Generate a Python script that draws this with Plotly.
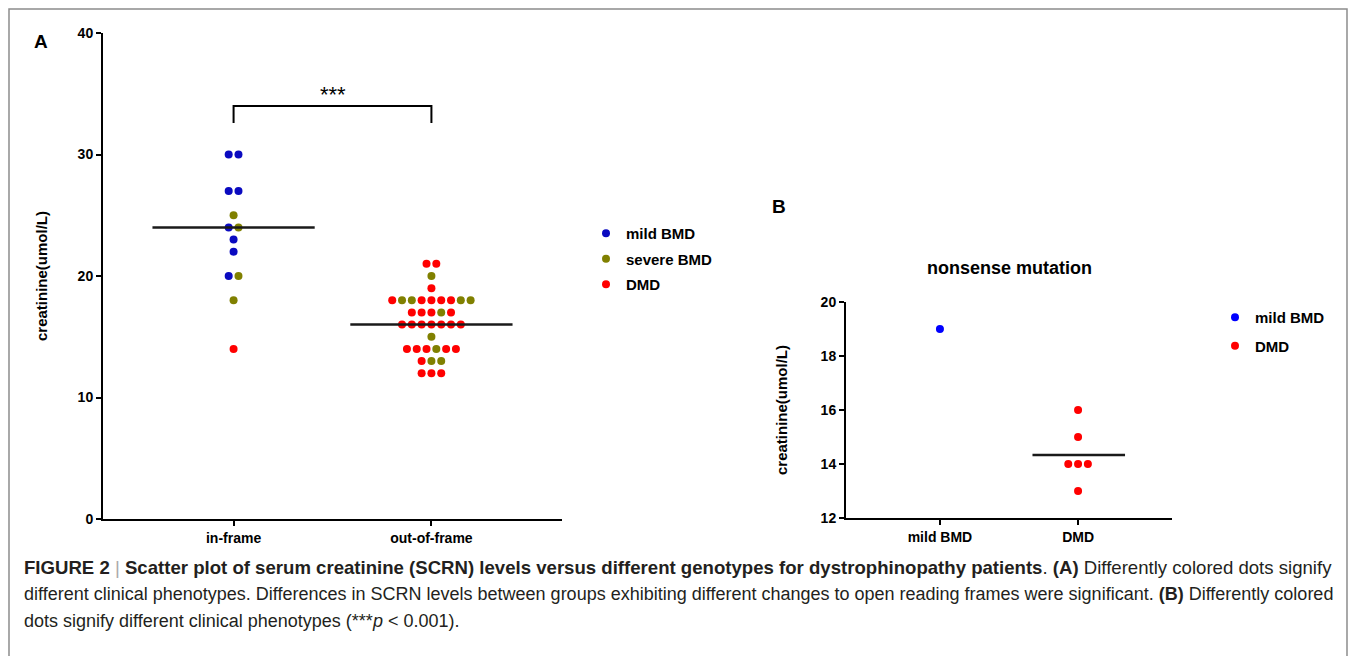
import plotly.graph_objects as go

# ---------------- data ----------------
A_CATEGORIES = ["in-frame", "out-of-frame"]
A_PHENOTYPES = ["mild BMD", "severe BMD", "DMD"]
# each row: (value, [phenotypes of the dots in this row, left to right])
A_INFRAME_ROWS = [
    (30, ["mild BMD", "mild BMD"]),
    (27, ["mild BMD", "mild BMD"]),
    (25, ["severe BMD"]),
    (24, ["mild BMD", "severe BMD"]),
    (23, ["mild BMD"]),
    (22, ["mild BMD"]),
    (20, ["mild BMD", "severe BMD"]),
    (18, ["severe BMD"]),
    (14, ["DMD"]),
]
A_OUTFRAME_ROWS = [
    (21, ["DMD", "DMD"]),
    (20, ["severe BMD"]),
    (19, ["DMD"]),
    (18, ["DMD", "severe BMD", "severe BMD", "DMD", "DMD", "DMD", "DMD", "severe BMD", "severe BMD"]),
    (17, ["DMD", "DMD", "DMD", "severe BMD", "DMD"]),
    (16, ["DMD"] * 7),
    (15, ["severe BMD"]),
    (14, ["DMD", "DMD", "DMD", "severe BMD", "DMD", "DMD"]),
    (13, ["DMD", "severe BMD", "severe BMD"]),
    (12, ["DMD", "DMD", "DMD"]),
]
A_LINE_VALUES = [24, 16]
A_YTICKS = [0, 10, 20, 30, 40]
A_SIG_TEXT = "***"

B_CATEGORIES = ["mild BMD", "DMD"]
B_PHENOTYPES = ["mild BMD", "DMD"]
B_MILD_ROWS = [(19, ["mild BMD"])]
B_DMD_ROWS = [
    (16, ["DMD"]),
    (15, ["DMD"]),
    (14, ["DMD", "DMD", "DMD"]),
    (13, ["DMD"]),
]
B_LINE_VALUE = 14.33
B_YTICKS = [12, 14, 16, 18, 20]
B_TITLE = "nonsense mutation"

COLORS_A = {"mild BMD": "#0A0AC0", "severe BMD": "#808000", "DMD": "#FF0000"}
COLORS_B = {"mild BMD": "#0000FF", "DMD": "#FF0000"}

# ---------------- layout constants ----------------
OFF = 8                      # page body margin
W, H = 1357 - OFF, 664 - 2 * OFF
FONT = "Arial, Liberation Sans, sans-serif"
CAP_FONT = "Liberation Sans, Arial, sans-serif"

def px_x(p):
    return (p - OFF) / W

def px_y(p):
    return 1 - (p - OFF) / H

A_XRANGE = [-0.66, 1.66]
A_XDOM = [px_x(103), px_x(562)]
A_YDOM = [px_y(519), px_y(33)]
B_XRANGE = [-0.68, 1.68]
B_XDOM = [px_x(846), px_x(1172)]
B_YDOM = [px_y(518), px_y(302)]
DOT_PX = 9.8


def swarm(rows, center, xrange_, xdom):
    unit_per_px = (xrange_[1] - xrange_[0]) / ((xdom[1] - xdom[0]) * W)
    step = DOT_PX * unit_per_px
    out = {}
    for val, phen in rows:
        n = len(phen)
        for i, p in enumerate(phen):
            xs, ys = out.setdefault(p, ([], []))
            xs.append(center + (i - (n - 1) / 2) * step)
            ys.append(val)
    return out


fig = go.Figure()

# Panel A dots
a_pts = {p: ([], []) for p in A_PHENOTYPES}
for ci, rows in enumerate([A_INFRAME_ROWS, A_OUTFRAME_ROWS]):
    for p, (xs, ys) in swarm(rows, ci, A_XRANGE, A_XDOM).items():
        a_pts[p][0].extend(xs)
        a_pts[p][1].extend(ys)
for i, p in enumerate(A_PHENOTYPES):
    fig.add_trace(go.Scatter(
        x=a_pts[p][0], y=a_pts[p][1], mode="markers", name=p,
        marker=dict(color=COLORS_A[p], size=8),
        xaxis="x", yaxis="y", legend="legend", legendgroup="a%d" % i))

# Panel A center lines
for ci, v in enumerate(A_LINE_VALUES):
    fig.add_trace(go.Scatter(
        x=[ci - 0.41, ci + 0.41], y=[v, v], mode="lines",
        line=dict(color="#1a1a1a", width=2.5), showlegend=False,
        xaxis="x", yaxis="y", hoverinfo="skip"))

# Panel B dots
b_pts = {p: ([], []) for p in B_PHENOTYPES}
for ci, rows in enumerate([B_MILD_ROWS, B_DMD_ROWS]):
    for p, (xs, ys) in swarm(rows, ci, B_XRANGE, B_XDOM).items():
        b_pts[p][0].extend(xs)
        b_pts[p][1].extend(ys)
for i, p in enumerate(B_PHENOTYPES):
    fig.add_trace(go.Scatter(
        x=b_pts[p][0], y=b_pts[p][1], mode="markers", name=p,
        marker=dict(color=COLORS_B[p], size=8),
        xaxis="x2", yaxis="y2", legend="legend2", legendgroup="b%d" % i))

fig.add_trace(go.Scatter(
    x=[1 - 0.33, 1 + 0.34], y=[B_LINE_VALUE, B_LINE_VALUE], mode="lines",
    line=dict(color="#1a1a1a", width=2.5), showlegend=False,
    xaxis="x2", yaxis="y2", hoverinfo="skip"))

axis_common = dict(
    showline=True, linecolor="black", linewidth=2, ticks="outside",
    ticklen=5, tickwidth=2, tickcolor="black", showgrid=False, zeroline=False,
    automargin=False,
    tickfont=dict(family=FONT, size=14, color="black", weight="bold"),
)

fig.update_layout(
    template="none",
    width=W, height=H, margin=dict(l=0, r=0, t=0, b=0, pad=0),
    paper_bgcolor="white", plot_bgcolor="white",
    font=dict(family=FONT, color="black"),
    xaxis=dict(domain=A_XDOM, range=A_XRANGE, tickvals=[0, 1], ticktext=A_CATEGORIES,
               anchor="y", **axis_common),
    yaxis=dict(domain=A_YDOM, range=[0, 40], tickvals=A_YTICKS, anchor="x",
               title=dict(text="creatinine(umol/L)", standoff=26,
                          font=dict(family=FONT, size=15, color="black", weight="bold")),
               **axis_common),
    xaxis2=dict(domain=B_XDOM, range=B_XRANGE, tickvals=[0, 1], ticktext=B_CATEGORIES,
                anchor="y2", **axis_common),
    yaxis2=dict(domain=B_YDOM, range=[12, 20], tickvals=B_YTICKS, anchor="x2",
                title=dict(text="creatinine(umol/L)", standoff=29,
                           font=dict(family=FONT, size=15, color="black", weight="bold")),
                **axis_common),
    legend=dict(x=px_x(586), y=px_y(217), xanchor="left", yanchor="top",
                traceorder="grouped", tracegroupgap=3, bgcolor="rgba(0,0,0,0)",
                font=dict(family=FONT, size=15, color="black", weight="bold")),
    legend2=dict(x=px_x(1215), y=px_y(301), xanchor="left", yanchor="top",
                 traceorder="grouped", tracegroupgap=6, bgcolor="rgba(0,0,0,0)",
                 font=dict(family=FONT, size=15, color="black", weight="bold")),
    showlegend=True,
)

# significance bracket (data coords of panel A)
fig.add_shape(type="path", xref="x", yref="y",
              path="M 0 32.6 L 0 34 L 1 34 L 1 32.6",
              line=dict(color="black", width=2))
fig.add_annotation(x=0.5, y=34, xref="x", yref="y", text=A_SIG_TEXT, showarrow=False,
                   xanchor="center", yanchor="bottom", yshift=-3,
                   font=dict(family=FONT, size=22, color="black"))

# panel B title
fig.add_annotation(x=(B_XDOM[0] + B_XDOM[1]) / 2, y=px_y(268), xref="paper", yref="paper",
                   text="<b>" + B_TITLE + "</b>", showarrow=False,
                   xanchor="center", yanchor="middle",
                   font=dict(family=FONT, size=18, color="black"))

# panel letters
fig.add_annotation(x=px_x(41), y=px_y(41), xref="paper", yref="paper", text="<b>A</b>",
                   showarrow=False, xanchor="center", yanchor="middle",
                   font=dict(family=FONT, size=19, color="black"))
fig.add_annotation(x=px_x(779), y=px_y(207), xref="paper", yref="paper", text="<b>B</b>",
                   showarrow=False, xanchor="center", yanchor="middle",
                   font=dict(family=FONT, size=19, color="black"))

# frame border (left, top, right)
fig.add_shape(type="path", xref="paper", yref="paper",
              path="M %f %f L %f %f L %f %f L %f %f" % (
                  px_x(9), 0, px_x(9), px_y(9), px_x(1347), px_y(9), px_x(1347), 0),
              line=dict(color="#8c8c8c", width=1.5))

# caption
caption_lines = [
    "<b>FIGURE 2</b> <span style='color:#aaaaaa'>|</span> <b>Scatter plot of serum creatinine (SCRN) levels versus different genotypes for dystrophinopathy patients</b>. <b>(A)</b> Differently colored dots signify",
    "different clinical phenotypes. Differences in SCRN levels between groups exhibiting different changes to open reading frames were significant. <b>(B)</b> Differently colored",
    "dots signify different clinical phenotypes (***<i>p</i> &lt; 0.001).",
]
caption_sizes = [18.6, 18, 18]
for i, t in enumerate(caption_lines):
    fig.add_annotation(x=px_x(22), y=px_y(567 + 27 * i), xref="paper", yref="paper",
                       text=t, showarrow=False, xanchor="left", yanchor="middle",
                       font=dict(family=CAP_FONT, size=caption_sizes[i], color="#231f20"))

fig.write_html("out.html")
